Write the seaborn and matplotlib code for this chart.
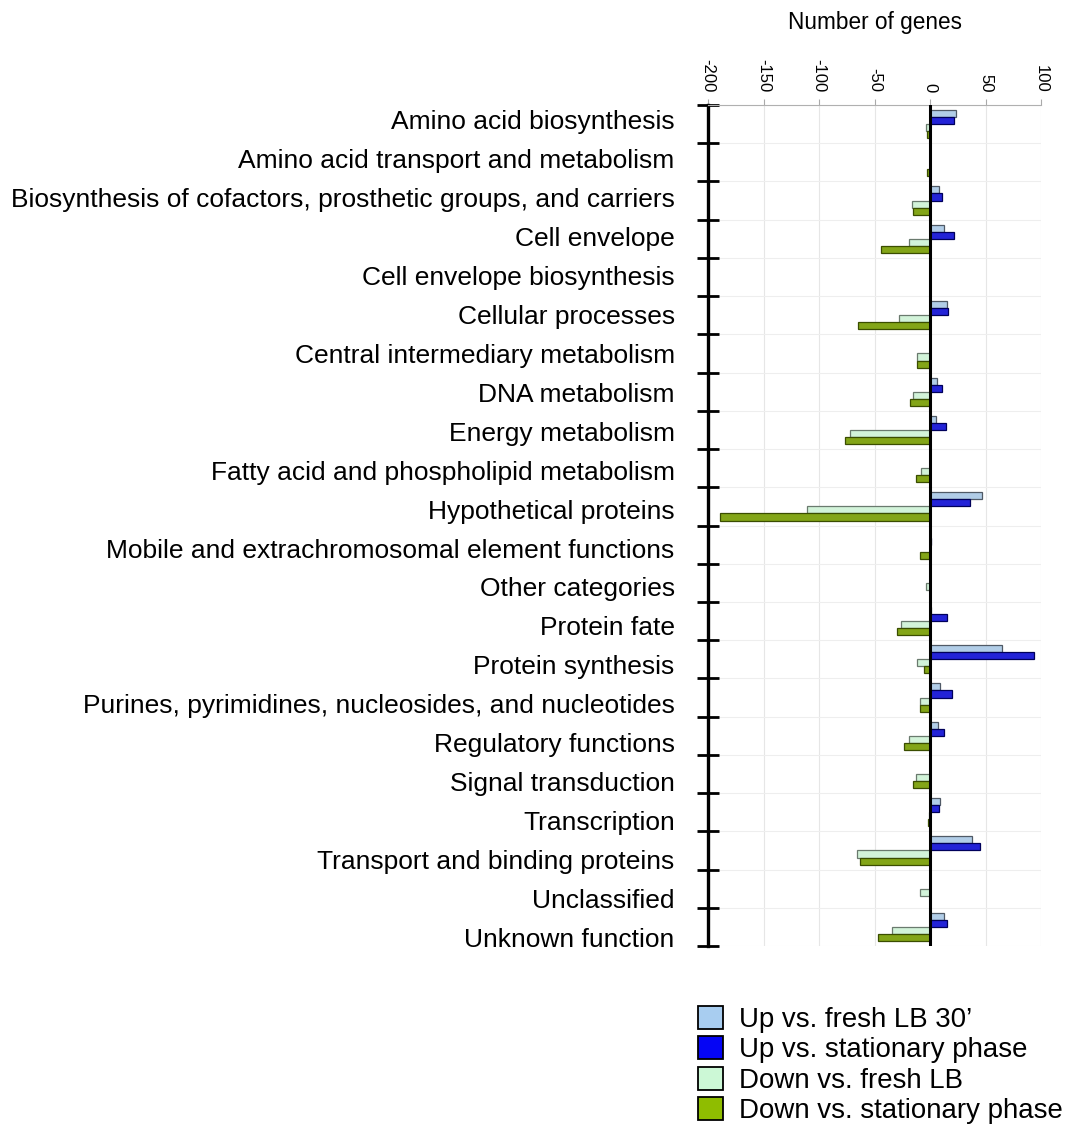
import matplotlib
matplotlib.use('Agg')
import matplotlib.pyplot as plt
import numpy as np
import pandas as pd
import seaborn as sns
from matplotlib.patches import Patch

categories = [
    'Amino acid biosynthesis',
    'Amino acid transport and metabolism',
    'Biosynthesis of cofactors, prosthetic groups, and carriers',
    'Cell envelope',
    'Cell envelope biosynthesis',
    'Cellular processes',
    'Central intermediary metabolism',
    'DNA metabolism',
    'Energy metabolism',
    'Fatty acid and phospholipid metabolism',
    'Hypothetical proteins',
    'Mobile and extrachromosomal element functions',
    'Other categories',
    'Protein fate',
    'Protein synthesis',
    'Purines, pyrimidines, nucleosides, and nucleotides',
    'Regulatory functions',
    'Signal transduction',
    'Transcription',
    'Transport and binding proteins',
    'Unclassified',
    'Unknown function',
]
series = ['Up vs. fresh LB 30\u2019', 'Up vs. stationary phase',
          'Down vs. fresh LB', 'Down vs. stationary phase']

up_fresh = [23, 0, 8, 13, 0, 15, 0, 6, 5, 0, 47, 0, 0, 1, 65, 9, 7, 0, 9, 38, 0, 13]
up_stat = [22, 0, 11, 22, 0, 16, 0, 11, 14, 0, 36, 1, 0, 15, 94, 20, 13, 0, 8, 45, 0, 15]
down_fresh = [-4, 0, -16, -19, 0, -28, -12, -15, -72, -8, -111, 0, -4, -26, -12, -9, -19, -13, -1, -66, -9, -34]
down_stat = [-3, -3, -15, -44, 0, -65, -12, -18, -77, -13, -189, -9, 0, -30, -5, -9, -23, -15, -2, -63, 0, -47]

x_ticks = [-200, -150, -100, -50, 0, 50, 100]

colors = ['#a8cdf0', '#0505f5', '#ccf8d6', '#8fbd00']
edges = ['#505a66', '#00005a', '#6a7a6e', '#3a4d00']

df = pd.DataFrame({
    'category': categories * 4,
    'series': np.repeat(series, len(categories)),
    'value': up_fresh + up_stat + down_fresh + down_stat,
})

sns.set_style('white')
plt.rcParams['font.family'] = ['Liberation Sans', 'DejaVu Sans']
plt.rcParams['axes.unicode_minus'] = False
plt.rcParams['text.color'] = 'black'
plt.rcParams['axes.labelcolor'] = 'black'
plt.rcParams['xtick.color'] = 'black'
plt.rcParams['ytick.color'] = 'black'

fig = plt.figure(figsize=(10.66, 11.34), dpi=100)
ax = fig.add_axes([708 / 1066, 1 - 946 / 1134, 333 / 1066, 841 / 1134])

sns.barplot(data=df, x='value', y='category', hue='series', order=categories,
            hue_order=series, palette=colors, width=0.74, orient='h',
            legend=False, ax=ax, linewidth=0.9)

for container, ec in zip(ax.containers, edges):
    for bar in container:
        bar.set_edgecolor(ec)

n = len(categories)
ax.set_xlim(-200, 100)
ax.set_ylim(n - 0.5, -0.5)

# labels in the original sit on a slightly wider pitch than the slots
ax.set_yticks(np.arange(n) * 1.019 - 0.12, labels=categories)

# grid
ax.set_axisbelow(True)
ax.set_xticks(x_ticks)
ax.set_yticks(np.arange(-0.5, n + 0.5, 1), minor=True)
ax.grid(axis='x', which='major', color='#e6e6e6', lw=0.8)
ax.grid(axis='y', which='minor', color='#eeeeee', lw=0.8)
ax.axvline(0, color='black', lw=2.2, zorder=5)

# top axis
ax.xaxis.tick_top()
ax.xaxis.set_label_position('top')
ax.tick_params(axis='x', which='major', top=True, bottom=False, direction='out',
               length=4, color='#aaaaaa', labelcolor='black', labelsize=12,
               pad=5, labelrotation=-90)
ax.set_xlabel('Number of genes', fontsize=16.3, labelpad=22)

# left axis
ax.set_ylabel('')
ax.tick_params(axis='y', which='major', length=0, labelsize=19, pad=24)
ax.tick_params(axis='y', which='minor', left=True, direction='inout', length=16,
               width=2, color='black')

for side in ['right', 'bottom']:
    ax.spines[side].set_visible(False)
ax.spines['top'].set_color('#b0b0b0')
ax.spines['top'].set_linewidth(0.8)
ax.spines['left'].set_color('black')
ax.spines['left'].set_linewidth(2.4)

handles = [Patch(facecolor=c, edgecolor='black', lw=1.3) for c in colors]
fig.legend(handles, series, loc='upper left', bbox_to_anchor=(698 / 1066, 1 - 1006 / 1134),
           frameon=False, fontsize=19.9, handlelength=0.9, handleheight=0.9,
           handletextpad=0.6, labelspacing=0.12, borderpad=0, borderaxespad=0)

fig.savefig('out.png', dpi=100)
